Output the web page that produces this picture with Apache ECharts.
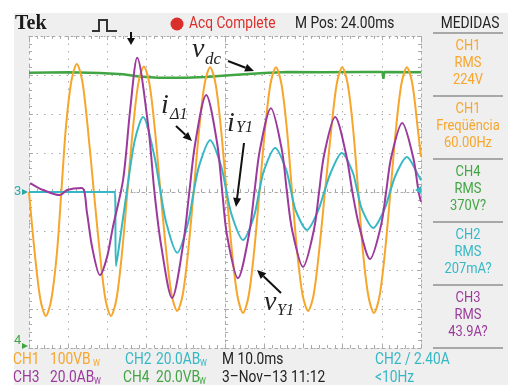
<!DOCTYPE html>
<html>
<head>
<meta charset="utf-8">
<script src="https://cdn.jsdelivr.net/npm/echarts@6/dist/echarts.min.js"></script>
<style>
  html, body { margin: 0; padding: 0; background: #fff; }
  #scope { width: 508px; height: 385px; }
</style>
</head>
<body>
<div id="scope"></div>
<script>
// time in ms (10 ms/div), amplitude in screen divisions (centre line = 0)
// CH1 - v_Y1 (orange)
const vY1 = [[0, 0], [1.5, -1.6], [2.9, -2.75], [4.3, -3.18], [5.7, -2.75], [7.1, -1.59], [8.25, 0], [9.4, 1.64],
  [10.8, 2.84], [12.2, 3.28], [13.6, 2.84], [15.0, 1.64], [16.55, 0], [18.1, -1.59], [19.5, -2.75], [20.9, -3.18],
  [22.3, -2.75], [23.7, -1.59], [25.1, 0], [26.5, 1.61], [27.9, 2.79], [29.3, 3.22], [30.7, 2.79], [32.1, 1.61],
  [33.55, 0], [35.0, -1.52], [36.4, -2.64], [37.8, -3.05], [39.2, -2.64], [40.6, -1.52], [42.0, 0], [43.4, 1.6],
  [44.8, 2.77], [46.2, 3.2], [47.6, 2.77], [49.0, 1.6], [50.4, 0], [51.8, -1.55], [53.2, -2.68], [54.6, -3.1],
  [56.0, -2.68], [57.4, -1.55], [58.8, 0], [60.2, 1.6], [61.6, 2.77], [63.0, 3.2], [64.4, 2.77], [65.8, 1.6],
  [67.1, 0], [68.4, -1.52], [69.8, -2.64], [71.2, -3.05], [72.6, -2.64], [74.0, -1.52], [75.5, 0], [77.1, 1.6],
  [78.5, 2.77], [79.9, 3.2], [81.3, 2.77], [82.7, 1.6], [84.0, 0], [85.2, -1.55], [86.6, -2.68], [88.0, -3.1],
  [89.4, -2.68], [90.8, -1.55], [92.2, 0], [93.6, 1.6], [95.0, 2.77], [96.4, 3.2], [97.8, 2.77], [99.2, 1.6], [100, 0.9]]

// CH3 - i_delta1 (purple)
const iD1 = [[0.3, 0.23], [3.6, 0.05], [7.9, -0.08], [9.7, 0.05], [13.5, 0.1], [14.8, -0.54], [16.1, -1.41],
  [18.1, -2.13], [19.9, -1.67], [21.4, -0.9], [24.0, 0.31], [25.8, 2.1], [27.6, 3.44], [30.4, 1.7], [32.0, 0],
  [33.7, -1.36], [36.5, -2.72], [39.3, -1.36], [40.9, 0], [42.4, 1.25], [45.2, 2.49], [48.0, 1.25], [49.3, 0],
  [50.5, -1.1], [53.3, -2.21], [56.1, -1.1], [57.5, 0], [58.9, 1.08], [61.7, 2.15], [64.5, 1.08], [65.8, 0],
  [67.1, -0.96], [69.9, -1.92], [72.7, -0.96], [74.0, 0], [75.3, 0.96], [78.1, 1.92], [80.9, 0.96], [82.5, 0],
  [84.2, -0.86], [87.0, -1.72], [89.8, -0.86], [91.1, 0], [92.4, 0.89], [95.2, 1.77], [98.0, 0.89], [99.4, 0], [100, -0.25]]

// CH2 - i_Y1 (cyan)
const iY1 = [[0, 0], [21.9, 0], [22.2, -1.9], [23.2, -1.23], [25.0, 0.05], [27.0, 1.33], [29.1, 1.92], [31.9, 0.96],
  [33.4, 0.1], [35.0, -0.78], [37.8, -1.56], [40.6, -0.78], [42.0, 0], [43.4, 0.67], [46.2, 1.33], [49.0, 0.67],
  [50.4, 0], [51.8, -0.62], [54.6, -1.23], [57.4, -0.62], [58.7, 0], [60.0, 0.57], [62.8, 1.13], [65.6, 0.57],
  [66.9, 0], [68.1, -0.49], [70.9, -0.97], [73.7, -0.49], [75.3, 0], [77.0, 0.5], [79.8, 1.0], [82.6, 0.5],
  [83.8, 0], [85.0, -0.46], [87.8, -0.92], [90.6, -0.46], [92.1, 0], [93.6, 0.45], [96.4, 0.9], [99.2, 0.45], [100, 0.3]]

// CH4 - v_dc (green)
const vDC = [[0, 3.06], [10, 3.07], [18, 3.05], [24, 3.02], [28, 2.96], [33, 2.93], [40, 2.93], [45, 2.95],
  [52, 3.0], [60, 3.05], [66, 3.08], [75, 3.07], [85, 3.08], [90.2, 3.08], [90.4, 2.9], [90.6, 3.08], [100, 3.07]]

const measCh = ["CH1", "CH1", "CH4", "CH2", "CH3"]
const measName = ["RMS", "Freqüência", "RMS", "RMS", "RMS"]
const measValue = ["224V", "60.00Hz", "370V?", "207mA?", "43.9A?"]

const C = {
  ch1: "#f6a62c",
  ch2: "#36b8c4",
  ch3: "#9b3a9c",
  ch4: "#42a544",
  grid: "#a9a9a9",
  dark: "#222",
  red: "#d9302c",
}
const measColor = [C.ch1, C.ch1, C.ch4, C.ch2, C.ch3]

const SANS = "Roboto, 'Noto Sans', sans-serif"
const SERIF = "'Liberation Serif', 'DejaVu Serif', serif"

function txt(x, y, s, color, size, o) {
  o = o || {}
  return {
    type: "text", x: x, y: y, z: 100,
    scaleX: o.sx == null ? 0.86 : o.sx,
    style: {
      text: s, fill: color, fontSize: size, fontFamily: o.family || SANS,
      fontWeight: o.weight || "normal", fontStyle: o.italic ? "italic" : "normal",
      align: o.align || "left", verticalAlign: "middle",
    },
  }
}

function arrow(x1, y1, x2, y2, color) {
  const a = Math.atan2(y2 - y1, x2 - x1)
  const L = 9, w = 4
  const bx = x2 - L * Math.cos(a), by = y2 - L * Math.sin(a)
  const nx = -Math.sin(a), ny = Math.cos(a)
  return [
    { type: "line", z: 100, shape: { x1: x1, y1: y1, x2: bx, y2: by }, style: { stroke: color, lineWidth: 2 } },
    { type: "polygon", z: 100, shape: { points: [[x2, y2], [bx + nx * w, by + ny * w], [bx - nx * w, by - ny * w]] }, style: { fill: color } },
  ]
}

function xAx(pos, offset, split) {
  return {
    type: "value", min: 0, max: 100, interval: 10, position: pos, offset: offset,
    axisLabel: { show: false },
    axisLine: { show: true, onZero: false, lineStyle: { color: C.grid, type: [2, 4] } },
    axisTick: { show: true, inside: true, length: 4, lineStyle: { color: C.grid } },
    minorTick: { show: true, splitNumber: 5, length: 3, lineStyle: { color: C.grid } },
    splitLine: { show: split, lineStyle: { color: C.grid, type: [1.5, 6] } },
  }
}
function yAx(pos, offset, split) {
  return {
    type: "value", min: -4, max: 4, interval: 1, position: pos, offset: offset,
    axisLabel: { show: false },
    axisLine: { show: true, onZero: false, lineStyle: { color: C.grid, type: [2, 4] } },
    axisTick: { show: true, inside: true, length: 4, lineStyle: { color: C.grid } },
    minorTick: { show: true, splitNumber: 5, length: 3, lineStyle: { color: C.grid } },
    splitLine: { show: split, lineStyle: { color: C.grid, type: [1.5, 6] } },
  }
}

function trace(name, data, color, width, smooth) {
  return {
    name: name, type: "line", data: data, showSymbol: false, smooth: smooth,
    xAxisIndex: 0, yAxisIndex: 0, animation: false,
    lineStyle: { color: color, width: width },
  }
}

let graphics = [
  { type: "rect", z: -100, shape: { x: 14, y: 13, width: 494, height: 372 }, style: { fill: "#efefef" } },
  // top bar
  txt(15, 24, "Tek", "#1a1a1a", 20, { family: SERIF, weight: "bold", sx: 1 }),
  { type: "polyline", z: 100, shape: { points: [[92, 31], [99, 31], [99, 20], [107, 20], [107, 31], [117, 31]] }, style: { stroke: "#333", lineWidth: 2, fill: null } },
  { type: "circle", z: 100, shape: { cx: 177, cy: 24, r: 6.5 }, style: { fill: C.red } },
  txt(189, 24, "Acq Complete", C.red, 16),
  txt(295, 24, "M Pos: 24.00ms", C.dark, 16),
  txt(470, 24, "MEDIDAS", C.dark, 16, { align: "center" }),
  // markers
  { type: "polygon", z: 100, shape: { points: [[127, 38], [135, 38], [131, 45]] }, style: { fill: "#111" } },
  { type: "line", z: 100, shape: { x1: 131, y1: 32, x2: 131, y2: 40 }, style: { stroke: "#111", lineWidth: 2 } },
  txt(14, 192, "3", "#2aa7a7", 13, { sx: 1 }),
  { type: "polygon", z: 100, shape: { points: [[22, 189], [28, 192], [22, 195]] }, style: { fill: "#2aa7a7" } },
  txt(14, 341, "4", C.ch4, 13, { sx: 1 }),
  { type: "polygon", z: 100, shape: { points: [[22, 343], [28, 346], [22, 349]] }, style: { fill: C.ch4 } },
  { type: "polygon", z: 100, shape: { points: [[421, 186], [415, 190], [421, 194]] }, style: { fill: C.ch2 } },
  // annotations
  txt(192, 50, "v", "#222", 28, { family: SERIF, italic: true, sx: 1 }),
  txt(205, 60, "dc", "#222", 17, { family: SERIF, italic: true, sx: 1 }),
  txt(161, 106, "i", "#222", 28, { family: SERIF, italic: true, sx: 1 }),
  txt(170, 115, "Δ1", "#222", 16, { family: SERIF, italic: true, sx: 1 }),
  txt(227, 124, "i", "#222", 28, { family: SERIF, italic: true, sx: 1 }),
  txt(236, 128, "Y1", "#222", 16, { family: SERIF, italic: true, sx: 1 }),
  txt(264, 303, "v", "#222", 28, { family: SERIF, italic: true, sx: 1 }),
  txt(277, 311, "Y1", "#222", 16, { family: SERIF, italic: true, sx: 1 }),
]
graphics = graphics.concat(arrow(228, 61, 254, 71, "#111"), arrow(176, 126, 192, 141, "#111"),
  arrow(244, 143, 236, 207, "#111"), arrow(281, 293, 257, 270, "#111"))

// measurement panel
graphics.push({ type: "line", z: 100, shape: { x1: 433, y1: 33, x2: 503, y2: 33 }, style: { stroke: "#a8a8a8", lineWidth: 2 } })
measCh.forEach((ch, i) => {
  const top = 33 + i * 63
  graphics.push(txt(468, top + 13, ch, measColor[i], 15, { align: "center" }))
  graphics.push(txt(468, top + 30, measName[i], measColor[i], 15, { align: "center" }))
  graphics.push(txt(468, top + 47, measValue[i], measColor[i], 15, { align: "center" }))
  graphics.push({ type: "line", z: 100, shape: { x1: 433, y1: top + 63, x2: 503, y2: top + 63 }, style: { stroke: "#a8a8a8", lineWidth: 2 } })
})

// bottom status lines
const r1 = 360, r2 = 378
graphics.push(
  txt(13, r1, "CH1", C.ch1, 16), txt(50, r1, "100VB", C.ch1, 16), txt(93, r1 + 4, "W", C.ch1, 9),
  txt(125, r1, "CH2", C.ch2, 16), txt(156, r1, "20.0AB", C.ch2, 16), txt(200, r1 + 4, "W", C.ch2, 9),
  txt(222, r1, "M 10.0ms", C.dark, 16),
  txt(375, r1, "CH2 / 2.40A", C.ch2, 16),
  txt(13, r2, "CH3", C.ch3, 16), txt(50, r2, "20.0AB", C.ch3, 16), txt(94, r2 + 4, "W", C.ch3, 9),
  txt(123, r2, "CH4", C.ch4, 16), txt(156, r2, "20.0VB", C.ch4, 16), txt(199, r2 + 4, "W", C.ch4, 9),
  txt(222, r2, "3–Nov–13 11:12", C.dark, 16),
  txt(375, r2, "<10Hz", C.ch2, 16)
)

const myChart = echarts.init(document.getElementById("scope"), null, { renderer: "canvas" })
myChart.setOption({
  animation: false,
  backgroundColor: "#fff",
  grid: { left: 29, top: 36, width: 392, height: 312, show: true, backgroundColor: "#fff", borderWidth: 0 },
  xAxis: [xAx("bottom", 0, true), xAx("top", 0, false), xAx("bottom", -156, false)],
  yAxis: [yAx("left", 0, true), yAx("right", 0, false), yAx("left", -196, false)],
  series: [
    trace("vdc", vDC, C.ch4, 2.5, false),
    trace("vY1", vY1, C.ch1, 2, 0.3),
    trace("iY1", iY1, C.ch2, 2, 0.3),
    trace("iD1", iD1, C.ch3, 2, 0.3),
  ],
  graphic: { elements: graphics },
})

window.addEventListener("resize", () => {
  myChart.resize()
})
</script>
</body>
</html>
